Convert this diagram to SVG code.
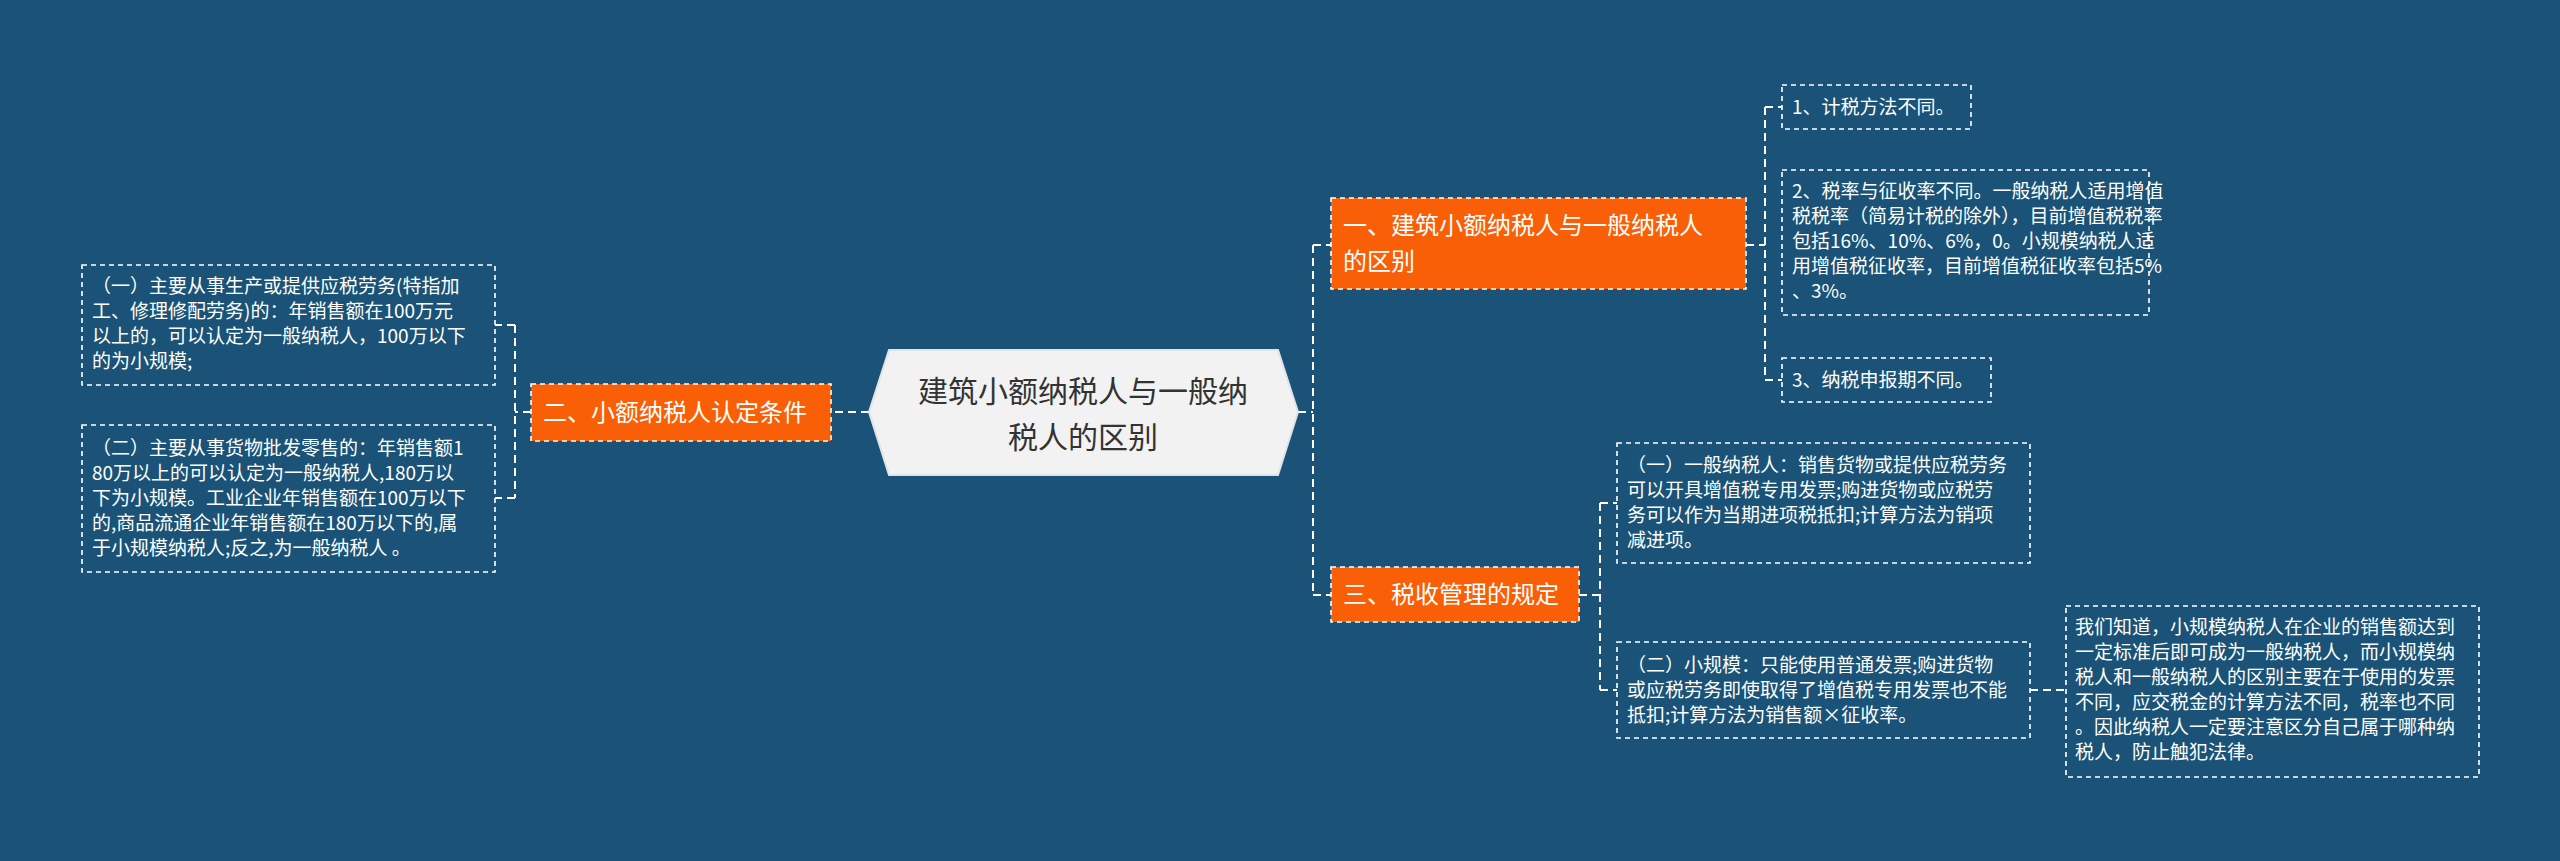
<svg xmlns="http://www.w3.org/2000/svg" width="2560" height="861" viewBox="0 0 2560 861">
<style>
text{font-family:"Noto Sans CJK SC","Liberation Sans",sans-serif;fill:#fff}
.leaf{fill:none;stroke:#fff;stroke-width:1.6;stroke-dasharray:5 4}
.br{fill:#f95f06;stroke:#fff;stroke-width:1.6;stroke-dasharray:5 4}
.con{fill:none;stroke:#fff;stroke-width:2;stroke-dasharray:8 5}
.t{font-size:19px}
.b{font-size:24px}
</style>
<rect width="2560" height="861" fill="#1a5377"/>
<g id="connectors">
<path class="con" d="M1298 412H1313M1313 245V595M1313 245H1331M1313 595H1331"/>
<path class="con" d="M869 412H831"/>
<path class="con" d="M531 412H515M515 325V498M515 325H495M515 498H495"/>
<path class="con" d="M1746 245H1765M1765 107V380M1765 107H1782M1765 380H1782"/>
<path class="con" d="M1579 595H1600M1600 503V690M1600 503H1617M1600 690H1617"/>
<path class="con" d="M2030 690H2066"/>
</g>
<g id="center">
<path d="M889 350H1278L1298 412L1278 475H889L869 412Z" fill="#f2f2f2" stroke="#dfe4e8" stroke-width="2"/>
<text x="1083" y="402" text-anchor="middle" font-size="30" style="fill:#333">建筑小额纳税人与一般纳</text>
<text x="1083" y="448" text-anchor="middle" font-size="30" style="fill:#333">税人的区别</text>
</g>
<g id="b1"><rect class="br" x="1331" y="198" width="415" height="91"/>
<text class="b" x="1343" y="234">一、建筑小额纳税人与一般纳税人</text><text class="b" x="1343" y="270">的区别</text></g>
<g id="b2"><rect class="br" x="531" y="384" width="300" height="57"/>
<text class="b" x="543" y="421">二、小额纳税人认定条件</text></g>
<g id="b3"><rect class="br" x="1331" y="567" width="248" height="55"/>
<text class="b" x="1343" y="603">三、税收管理的规定</text></g>
<g id="l1"><rect class="leaf" x="1782" y="85" width="189" height="44"/>
<text class="t" x="1792" y="114">1、计税方法不同。</text></g>
<g id="l2"><rect class="leaf" x="1782" y="170" width="367" height="145"/>
<text class="t"><tspan x="1792" y="198">2、税率与征收率不同。一般纳税人适用增值</tspan><tspan x="1792" y="223">税税率（简易计税的除外），目前增值税税率</tspan><tspan x="1792" y="248">包括16%、10%、6%，0。小规模纳税人适</tspan><tspan x="1792" y="273">用增值税征收率，目前增值税征收率包括5%</tspan><tspan x="1792" y="298">、3%。</tspan></text></g>
<g id="l3"><rect class="leaf" x="1782" y="358" width="209" height="44"/>
<text class="t" x="1792" y="387">3、纳税申报期不同。</text></g>
<g id="ll1"><rect class="leaf" x="82" y="265" width="413" height="120"/>
<text class="t"><tspan x="92" y="293">（一）主要从事生产或提供应税劳务(特指加</tspan><tspan x="92" y="318">工、修理修配劳务)的：年销售额在100万元</tspan><tspan x="92" y="343">以上的，可以认定为一般纳税人，100万以下</tspan><tspan x="92" y="368">的为小规模;</tspan></text></g>
<g id="ll2"><rect class="leaf" x="82" y="425" width="413" height="147"/>
<text class="t"><tspan x="92" y="455">（二）主要从事货物批发零售的：年销售额1</tspan><tspan x="92" y="480">80万以上的可以认定为一般纳税人,180万以</tspan><tspan x="92" y="505">下为小规模。工业企业年销售额在100万以下</tspan><tspan x="92" y="530">的,商品流通企业年销售额在180万以下的,属</tspan><tspan x="92" y="555">于小规模纳税人;反之,为一般纳税人 。</tspan></text></g>
<g id="r3a"><rect class="leaf" x="1617" y="443" width="413" height="120"/>
<text class="t"><tspan x="1627" y="472">（一）一般纳税人：销售货物或提供应税劳务</tspan><tspan x="1627" y="497">可以开具增值税专用发票;购进货物或应税劳</tspan><tspan x="1627" y="522">务可以作为当期进项税抵扣;计算方法为销项</tspan><tspan x="1627" y="547">减进项。</tspan></text></g>
<g id="r3b"><rect class="leaf" x="1617" y="642" width="413" height="96"/>
<text class="t"><tspan x="1627" y="672">（二）小规模：只能使用普通发票;购进货物</tspan><tspan x="1627" y="697">或应税劳务即使取得了增值税专用发票也不能</tspan><tspan x="1627" y="722">抵扣;计算方法为销售额×征收率。</tspan></text></g>
<g id="r3c"><rect class="leaf" x="2066" y="606" width="413" height="171"/>
<text class="t"><tspan x="2075" y="634">我们知道，小规模纳税人在企业的销售额达到</tspan><tspan x="2075" y="659">一定标准后即可成为一般纳税人，而小规模纳</tspan><tspan x="2075" y="684">税人和一般纳税人的区别主要在于使用的发票</tspan><tspan x="2075" y="709">不同，应交税金的计算方法不同，税率也不同</tspan><tspan x="2075" y="734">。因此纳税人一定要注意区分自己属于哪种纳</tspan><tspan x="2075" y="759">税人，防止触犯法律。</tspan></text></g>
</svg>
